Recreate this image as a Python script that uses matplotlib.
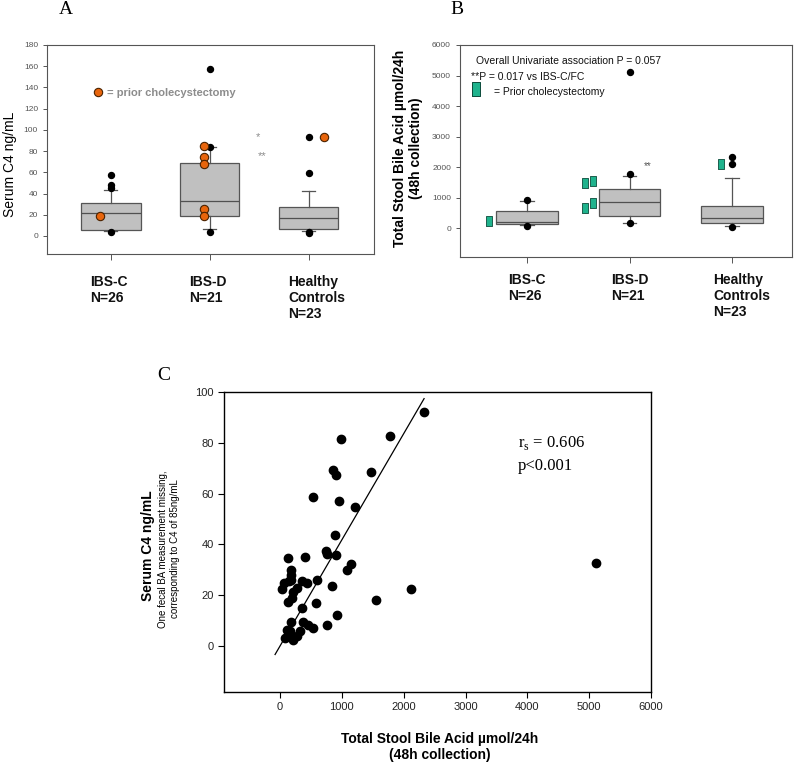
import matplotlib
matplotlib.use('Agg')
import matplotlib.pyplot as plt
import numpy as np

plt.rcParams['font.family'] = ['Liberation Sans', 'DejaVu Sans']
SERIF = ['Liberation Serif', 'DejaVu Serif']

# ---------------------------------------------------------------------------
# Data
# ---------------------------------------------------------------------------
groups = ['IBS-C\nN=26', 'IBS-D\nN=21', 'Healthy\nControls\nN=23']
positions = [1, 2, 3]

# Panel A: serum C4 (ng/mL) box statistics
c4_q1 = [5.6, 18.5, 6.6]
c4_med = [21.5, 32.6, 16.9]
c4_q3 = [30.8, 69.0, 27.3]
c4_lo = [4.5, 6.3, 5.0]
c4_hi = [43.0, 84.0, 42.0]
c4_out = [[57.4, 47.7, 45.4, 3.8], [157.5, 84.0, 4.0], [93.0, 59.0, 4.0, 2.8]]
c4_chole = [[18.5], [85.0, 74.6, 67.4, 25.4, 18.5], [93.0]]
c4_chole_dx = [-0.11, -0.06, 0.15]

# Panel B: total stool bile acid (umol/24h) box statistics
ba_q1 = [140, 400, 163]
ba_med = [196, 850, 340]
ba_q3 = [566, 1277, 730]
ba_lo = [110, 183, 75]
ba_hi = [903, 1720, 1636]
ba_out = [[936, 85], [5100, 1780, 180], [2334, 2115, 52]]
ba_chole = [[[240]], [[655, 1493], [818, 1560]], [[2115]]]
ba_chole_dx = [[-0.37], [-0.43, -0.36], [-0.11]]

# Panel C: stool BA vs serum C4
stool_ba = [2329, 1784, 987, 852, 906, 1472, 529, 959, 1208,
            890, 135, 405, 744, 755, 906, 1078, 1148,
            185, 180, 175, 65, 27, 150, 351, 431, 593,
            270, 205, 135, 195,
            846, 577, 351, 917, 178, 367, 448, 529, 755,
            108, 162, 323, 280, 81, 216, 135,
            1553, 2119, 5106]
serum_c4 = [92.2, 82.8, 81.4, 69.4, 67.3, 68.6, 58.7, 57.0, 54.8,
            43.6, 34.8, 35.1, 37.4, 36.4, 35.8, 30.1, 32.2,
            29.8, 28.0, 26.0, 24.8, 22.6, 25.6, 25.6, 25.0, 25.9,
            23.0, 21.3, 17.3, 18.8,
            23.5, 17.1, 15.0, 12.4, 9.5, 9.5, 8.4, 7.1, 8.2,
            6.2, 5.8, 5.8, 4.1, 3.2, 2.2, 4.2,
            18.0, 22.5, 32.7]
fit_slope = 0.0418
fit_intercept = 0.0
fit_range = [-80, 2330]

BOX_FACE = '#c0c0c0'
BOX_EDGE = '#555555'
ORANGE = '#e8650c'
TEAL = '#1fb38d'
RECT = [(-0.34, -0.5), (0.34, -0.5), (0.34, 0.5), (-0.34, 0.5), (-0.34, -0.5)]


def box_stats(q1, med, q3, lo, hi):
    return [dict(q1=a, med=b, q3=c, whislo=d, whishi=e, fliers=[])
            for a, b, c, d, e in zip(q1, med, q3, lo, hi)]


def style_box_axes(ax):
    for sp in ax.spines.values():
        sp.set_color('#555555')
        sp.set_linewidth(0.8)
    ax.tick_params(axis='y', labelsize=6, labelcolor='#555555', color='#555555',
                   length=3, width=0.7)
    ax.tick_params(axis='x', labelbottom=False, color='#555555', length=4, width=0.7)


def draw_boxes(ax, stats):
    ax.bxp(stats, positions=positions, widths=0.6, showfliers=False, patch_artist=True,
           boxprops=dict(facecolor=BOX_FACE, edgecolor=BOX_EDGE, linewidth=0.9),
           medianprops=dict(color='#505050', linewidth=0.9),
           whiskerprops=dict(color=BOX_EDGE, linewidth=0.9),
           capprops=dict(color=BOX_EDGE, linewidth=0.9), capwidths=0.13)


def group_labels(ax, dx, y):
    for p, g in zip(positions, groups):
        ax.text(p + dx, y, g, transform=ax.get_xaxis_transform(), ha='left', va='top',
                fontsize=10, fontweight='bold', linespacing=1.2, color='#111111')


fig = plt.figure(figsize=(8, 7.64), dpi=100)

# ============================================================================
# Panel A
# ============================================================================
axA = fig.add_axes([0.05875, 0.6675, 0.40875, 0.2736])
draw_boxes(axA, box_stats(c4_q1, c4_med, c4_q3, c4_lo, c4_hi))
for p, vals in zip(positions, c4_out):
    axA.plot([p] * len(vals), vals, 'o', color='black', ms=4.3, zorder=3)
for p, vals, dx in zip(positions, c4_chole, c4_chole_dx):
    axA.plot([p + dx] * len(vals), vals, 'o', mfc=ORANGE, mec='#4a2200', mew=0.8,
             ms=6, zorder=4)
axA.plot([0.87], [136], 'o', mfc=ORANGE, mec='#4a2200', mew=0.8, ms=6, clip_on=False)
axA.text(0.96, 134.5, '= prior cholecystectomy', fontsize=8, fontweight='bold',
         color='#8c8c8c', va='center', ha='left')
axA.text(2.49, 93, '*', fontsize=8, color='#8c8c8c', ha='center', va='center')
axA.text(2.53, 75, '**', fontsize=8, color='#8c8c8c', ha='center', va='center')
axA.set_xlim(0.354, 3.66)
axA.set_ylim(-17, 180)
axA.set_yticks(np.arange(0, 181, 20))
axA.set_xticks(positions)
style_box_axes(axA)
group_labels(axA, -0.21, -0.10)
fig.text(10 / 800, 1 - 164 / 764, 'Serum C4 ng/mL', rotation=90, ha='center',
         va='center', fontsize=10)
fig.text(66 / 800, 1 - 10 / 764, 'A', family=SERIF, fontsize=14, ha='center', va='center')

# ============================================================================
# Panel B
# ============================================================================
axB = fig.add_axes([0.575, 0.6636, 0.415, 0.2775])
draw_boxes(axB, box_stats(ba_q1, ba_med, ba_q3, ba_lo, ba_hi))
for p, vals in zip(positions, ba_out):
    axB.plot([p] * len(vals), vals, 'o', color='black', ms=4.3, zorder=3)
for p, cols, dxs in zip(positions, ba_chole, ba_chole_dx):
    for vals, dx in zip(cols, dxs):
        axB.plot([p + dx] * len(vals), vals, marker=RECT, ls='none', mfc=TEAL,
                 mec='#0b4a3a', mew=0.6, ms=6.5, zorder=4)
axB.text(0.50, 5486, 'Overall Univariate association P = 0.057', fontsize=7.5,
         ha='left', va='center', color='#111111')
axB.text(0.45, 4962, '**P = 0.017 vs IBS-C/FC', fontsize=7.5, ha='left', va='center',
         color='#111111')
axB.plot([0.50], [4560], marker=RECT, ls='none', mfc=TEAL, mec='#0b4a3a', mew=0.7, ms=9.5)
axB.text(0.68, 4470, '= Prior cholecystectomy', fontsize=7.5, ha='left', va='center',
         color='#111111')
axB.text(2.18, 2050, '**', fontsize=7, color='#555555', ha='center', va='center')
axB.set_xlim(0.346, 3.585)
axB.set_ylim(-940, 6000)
axB.set_yticks(np.arange(0, 6001, 1000))
axB.set_xticks(positions)
style_box_axes(axB)
group_labels(axB, -0.18, -0.075)
fig.text(408 / 800, 1 - 148 / 764, 'Total Stool Bile Acid \u00b5mol/24h\n(48h collection)',
         rotation=90, ha='center', va='center', fontsize=10, fontweight='bold',
         linespacing=1.1)
fig.text(457 / 800, 1 - 10 / 764, 'B', family=SERIF, fontsize=14, ha='center', va='center')

# ============================================================================
# Panel C
# ============================================================================
axC = fig.add_axes([0.28, 0.0946, 0.53375, 0.3923])
axC.plot(stool_ba, serum_c4, 'o', color='black', ms=6, zorder=3)
fx = np.array(fit_range, dtype=float)
axC.plot(fx, fit_intercept + fit_slope * fx, color='black', lw=0.9)
axC.set_xlim(-906, 6000)
axC.set_ylim(-18, 100)
axC.set_xticks(np.arange(0, 6001, 1000))
axC.set_yticks(np.arange(0, 101, 20))
for sp in axC.spines.values():
    sp.set_linewidth(1.0)
axC.tick_params(labelsize=8, length=4, width=0.8, labelcolor='#222222')
axC.text(3849, 79.9, r'r$_\mathregular{s}$ = 0.606', family=SERIF, fontsize=12,
         ha='left', va='center')
axC.text(3849, 70.8, 'p<0.001', family=SERIF, fontsize=12, ha='left', va='center')
fig.text(148 / 800, 1 - 546 / 764, 'Serum C4 ng/mL', rotation=90, ha='center',
         va='center', fontsize=10, fontweight='bold')
fig.text(169 / 800, 1 - 549 / 764,
         'One fecal BA measurement missing,\ncorresponding to C4 of 85ng/mL',
         rotation=90, ha='center', va='center', fontsize=7, linespacing=1.15)
fig.text(440 / 800, 1 - 747 / 764, 'Total Stool Bile Acid \u00b5mol/24h\n(48h collection)',
         ha='center', va='center', fontsize=10, fontweight='bold', linespacing=1.15)
fig.text(164 / 800, 1 - 376 / 764, 'C', family=SERIF, fontsize=14, ha='center', va='center')

fig.savefig('out.png', dpi=100, facecolor='white')
